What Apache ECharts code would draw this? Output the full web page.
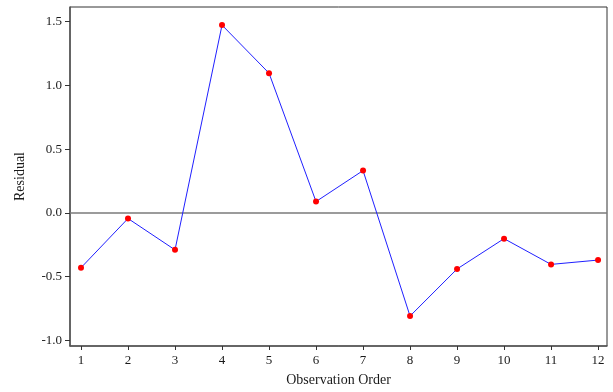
<!DOCTYPE html>
<html>
<head>
<meta charset="utf-8">
<script src="https://cdn.jsdelivr.net/npm/echarts@6/dist/echarts.min.js"></script>
<style>
  html, body { margin: 0; padding: 0; background: #fff; }
  #chart { width: 613px; height: 392px; }
</style>
</head>
<body>
<div id="chart"></div>
<script>
// Observation order and residual values
const observations = [1, 2, 3, 4, 5, 6, 7, 8, 9, 10, 11, 12];
const residuals = [-0.43, -0.044, -0.29, 1.473, 1.096, 0.089, 0.332, -0.809, -0.44, -0.202, -0.404, -0.37];
const yTicks = [-1.0, -0.5, 0.0, 0.5, 1.0, 1.5];

const serif = '"Liberation Serif", "Times New Roman", serif';
const chart = echarts.init(document.getElementById('chart'), null, { renderer: 'canvas' });

chart.setOption({
  animation: false,
  backgroundColor: '#fff',
  grid: {
    left: 70, right: 6, top: 7, bottom: 43,
    show: true, borderColor: '#333', borderWidth: 1, backgroundColor: 'transparent'
  },
  xAxis: {
    type: 'value',
    min: 0.766, max: 12.19,
    name: 'Observation Order',
    nameLocation: 'middle',
    nameGap: 27,
    nameTextStyle: { fontFamily: serif, fontSize: 14, color: '#1a1a1a' },
    axisLine: { show: true, onZero: false, lineStyle: { color: '#555', width: 1.5 } },
    axisTick: { show: true, length: 4, inside: false, customValues: observations, lineStyle: { color: '#333' } },
    axisLabel: { customValues: observations, fontFamily: serif, fontSize: 13, color: '#1a1a1a', margin: 8 },
    splitLine: { show: false }
  },
  yAxis: {
    type: 'value',
    min: -1.044, max: 1.615,
    name: 'Residual',
    nameLocation: 'middle',
    nameGap: 43,
    nameRotate: 90,
    nameTextStyle: { fontFamily: serif, fontSize: 14, color: '#1a1a1a' },
    axisLine: { show: true, onZero: false, lineStyle: { color: '#555', width: 1.5 } },
    axisTick: { show: true, length: 5, inside: false, customValues: yTicks, lineStyle: { color: '#333' } },
    axisLabel: {
      customValues: yTicks, fontFamily: serif, fontSize: 13, color: '#1a1a1a', margin: 8,
      formatter: v => v.toFixed(1)
    },
    splitLine: { show: false }
  },
  series: [{
    type: 'line',
    data: observations.map((o, i) => [o, residuals[i]]),
    symbol: 'circle',
    symbolSize: 6,
    itemStyle: { color: '#ff0000', borderWidth: 0 },
    lineStyle: { color: '#2020ff', width: 1 },
    z: 3,
    markLine: {
      silent: true,
      symbol: 'none',
      label: { show: false },
      lineStyle: { color: '#7a7a7a', width: 1.5, type: 'solid' },
      data: [{ yAxis: 0 }],
      z: 1
    }
  }]
});
</script>
</body>
</html>
